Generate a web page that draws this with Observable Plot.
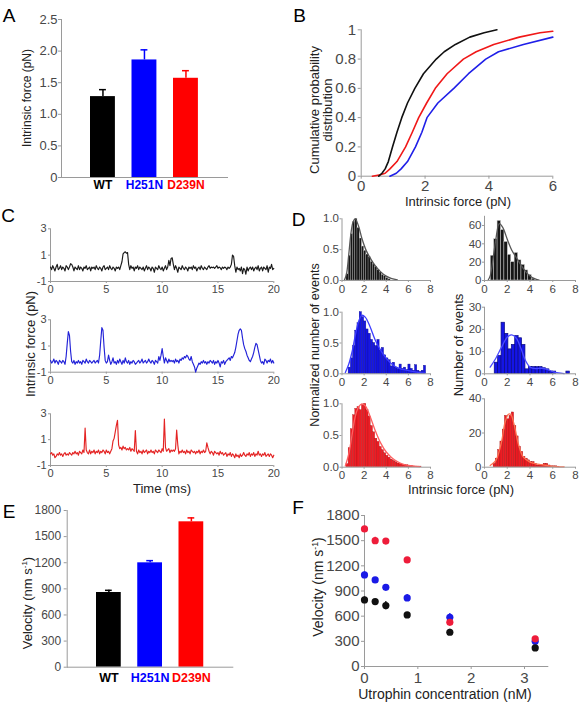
<!DOCTYPE html>
<html><head><meta charset="utf-8">
<script src="https://cdn.jsdelivr.net/npm/d3@7"></script>
<script src="https://cdn.jsdelivr.net/npm/@observablehq/plot@0.6"></script>
<style>
html,body{margin:0;padding:0;background:#fff;}
#fig{position:relative;width:581px;height:705px;overflow:hidden;background:#fff;font-family:"Liberation Sans",Arial,Helvetica,sans-serif;}
.lbl{position:absolute;white-space:nowrap;line-height:1;transform:translate(-50%,-50%);color:#222;}
.rot{transform:translate(-50%,-50%) rotate(-90deg);text-align:center;}
.letter{font-size:19px;color:#000;}
sup{font-size:0.62em;vertical-align:0.55em;line-height:0;}
</style></head><body><div id="fig"></div>
<script>
// ---------- data ----------
const cats = ["WT", "H251N", "D239N"];
const catColors = ["#000000", "#0000ff", "#ff0000"];
const forceMean = [1.28, 1.86, 1.57];
const forceErr = [0.11, 0.16, 0.12];
const velMean = [858, 1199, 1670];
const velErr = [25, 25, 45];

// B: cumulative distributions (force, cumulative probability)
const cdfF_WT = [0.55,0.65,0.75,0.85,0.98,1.12,1.27,1.45,1.68,1.95,2.35,2.6,2.95,3.4,3.85,4.25];
const cdfP_WT = [0,0.02,0.05,0.1,0.2,0.3,0.4,0.5,0.6,0.7,0.8,0.85,0.9,0.95,0.98,1.0];
const cdfF_H = [0.9,1.1,1.25,1.45,1.7,1.9,2.06,2.4,2.9,3.36,3.9,4.3,5.08,6.0];
const cdfP_H = [0,0.02,0.05,0.1,0.2,0.3,0.4,0.5,0.6,0.7,0.8,0.85,0.9,0.95];
const cdfF_D = [0.35,0.6,0.75,0.9,1.12,1.39,1.6,1.8,2.05,2.32,2.69,3.2,3.6,4.15,4.95,5.6,6.0];
const cdfP_D = [0,0.01,0.02,0.05,0.1,0.2,0.3,0.4,0.5,0.6,0.7,0.8,0.85,0.9,0.95,0.98,0.99];

// C: force traces sampled every 0.1 ms, 0–20 ms
const traceStep = 0.1;
const traceWT = [
0.1,-0.1,0.2,0,-0.2,0.1,0.3,-0.1,0,0.2,
-0.1,0.1,0,-0.2,0.2,0.1,-0.1,0.1,0.35,0.3,
0.1,-0.2,0.1,0,-0.1,0.2,-0.1,0.1,0,-0.2,
0.1,0,0.2,-0.1,0,0.1,-0.2,0.1,0,0.1,
-0.1,0.2,0,-0.1,0.1,0,-0.2,0.1,0.2,-0.1,
0,0.1,-0.1,0.2,0,-0.1,0.1,0,-0.2,0.1,
0,0.1,-0.1,0.2,0.5,1.1,1.2,1.25,1.15,1.2,
0.3,-0.1,0.2,0,0.1,-0.2,0.1,0,0.2,-0.1,
0.1,0,-0.1,0.1,-0.2,0,0.2,-0.1,0.1,0,
-0.2,0.1,0,-0.3,0.1,0,-0.1,0.2,0,-0.1,
0.1,-0.2,0,0.2,-0.1,0.1,0.6,0.2,0.75,0.8,
0.3,-0.1,0.2,0,-0.3,0.1,0,-0.1,0.2,0,
-0.1,0.1,0,-0.2,0.1,0,0.1,-0.1,0.2,0,
0.1,-0.2,0,0.1,-0.1,0.2,0,-0.1,0.1,0,
-0.1,0.1,0.2,0,0.1,0.05,0.1,0,0.1,0.2,
0,0.1,0.05,-0.1,0.1,0,0.1,0.05,-0.1,0.1,
0,0.1,0.3,1.0,0.9,0.2,-0.3,0.1,-0.1,0,
-0.2,0.1,-0.4,0,-0.1,-0.45,0.1,-0.2,0,0.1,
-0.1,0.1,-0.2,0,0.1,-0.1,0.2,-0.2,0,0.1,
-0.2,0.1,0,-0.1,0.2,-0.3,0.1,0,0.3,-0.1,
0];
const traceH = [
-0.1,-0.3,-0.2,0,-0.3,-0.1,-0.2,-0.4,-0.1,-0.2,
-0.3,-0.1,-0.2,-0.4,0.2,1.2,2.1,1.8,0.6,-0.2,
-0.3,-0.1,-0.4,-0.2,-0.3,-0.1,-0.3,-0.2,-0.4,-0.1,
-0.2,-0.3,0,-0.2,-0.3,-0.1,-0.2,-0.3,-0.2,-0.1,
-0.3,-0.2,-0.1,-0.3,0.3,1.4,2.4,2.2,0.9,-0.1,
-0.3,-0.2,0.3,-0.1,-0.4,-0.2,0.1,-0.3,-0.2,-0.4,
-0.1,-0.3,0,-0.2,-0.4,-0.1,-0.3,0.1,-0.2,-0.3,
-0.1,-0.4,-0.2,-0.3,-0.1,-0.2,-0.4,-0.3,-0.2,-0.1,
-0.3,-0.2,0,-0.3,-0.2,-0.1,-0.3,-0.2,0,-0.2,
-0.3,-0.1,-0.2,-0.4,-0.1,-0.2,-0.3,0.2,-0.1,0.3,
0.8,0.2,-0.3,0.1,-0.1,-0.3,0,-0.2,-0.1,-0.2,
-0.1,-0.3,0,-0.2,-0.1,-0.3,0,-0.1,0.1,0,
0.2,0.1,0.3,0.2,0,-0.1,0.2,-0.2,-0.4,-0.6,
-1.0,-0.7,-0.5,-0.3,-0.4,-0.2,-0.3,-0.1,-0.3,-0.2,
-0.4,-0.2,-0.3,-0.1,-0.2,-0.3,-0.1,-0.4,-0.2,-0.3,
-0.1,-0.3,-0.6,-0.2,-0.3,-0.1,-0.4,-0.2,-0.1,0,
0.1,-0.1,0.2,0.1,0.3,0.5,0.9,1.4,1.9,2.2,
2.3,2.2,1.6,1.1,0.8,0.6,0.3,0.1,-0.1,-0.2,
0,0.2,0.5,0.9,1.2,1.1,0.7,0.3,-0.1,-0.3,
-0.2,-0.4,0,-0.1,-0.3,-0.1,-0.2,0,-0.3,-0.1,
-0.3];
const traceD = [
-0.1,0,-0.2,-0.1,-0.4,-0.3,-0.1,-0.2,0,-0.2,
-0.1,-0.3,-0.1,0,-0.2,-0.1,-0.2,0,-0.1,-0.2,
0,-0.1,0.1,-0.1,0,-0.2,0.1,0,-0.1,0.2,
0,1.9,0.2,0,-0.1,0.2,-0.1,0.1,0,0.2,
-0.1,0.1,0,0.2,-0.1,0.1,0,0.2,0.1,-0.1,
0.2,0,0.1,-0.1,0.1,0.3,0.9,1.1,1.6,2.1,
2.5,0.6,0.3,0.4,0.2,0.5,0.3,0.4,0.2,0.3,
0.2,0.4,0.1,0.3,0.2,0.1,1.7,0.1,-0.1,0.2,
0,0.1,-0.1,0.2,0,0.1,0.2,-0.1,0.1,0,
0.2,0,0.1,-0.1,0.2,0.1,0,0.2,0.1,0,
0.3,0.1,2.6,0.4,0.1,0.2,0.3,0,0.2,0.1,
0.2,0.1,0.3,1.75,0.6,-0.1,0.1,0,0.2,0,
0.1,-0.1,0.2,0,0.1,-0.1,0.2,0.1,0,0.1,
-0.1,0.1,0,0.2,-0.1,0.1,0,0.2,0,0.1,
0.75,0.4,0.1,-0.1,0.1,0,-0.2,0.1,0,-0.1,
0,-0.2,0.1,-0.1,0,-0.2,-0.1,0,-0.3,-0.1,
-0.2,0,-0.3,-0.1,-0.2,-0.4,-0.1,-0.3,-0.2,-0.4,
-0.1,-0.3,-0.2,0,-0.2,-0.3,-0.1,-0.2,0,-0.3,
-0.1,-0.2,0,-0.3,-0.1,-0.2,0.1,-0.2,-0.1,-0.3,
-0.1,-0.2,0,-0.3,-0.2,-0.1,-0.3,-0.1,-0.2,-0.4,
-0.2];

// D: histograms (bin centres, heights) and fitted curves
const normBinW = 0.2;
const normBinsWT = [0.5,0.7,0.9,1.1,1.3,1.5,1.7,1.9,2.1,2.3,2.5,2.7,2.9,3.1,3.3,3.5,3.7,3.9,4.1,4.3];
const normWT = [0.1,0.4,0.75,0.95,1.0,0.85,0.68,0.55,0.48,0.42,0.38,0.3,0.26,0.22,0.17,0.13,0.09,0.07,0.04,0.02];
const normBinsH = [0.7,0.9,1.1,1.3,1.5,1.7,1.9,2.1,2.3,2.5,2.7,2.9,3.1,3.3,3.5,3.7,3.9,4.1,4.3,4.5,4.7,4.9,5.1,5.3,5.5,5.7,5.9,6.1,6.3,6.5,6.7,6.9,7.1,7.3,7.5];
const normH = [0.1,0.25,0.45,0.7,0.82,1.0,0.92,0.85,0.72,0.65,0.55,0.5,0.45,0.55,0.38,0.42,0.3,0.25,0.22,0.12,0.18,0.1,0.08,0.15,0.08,0.1,0.06,0.15,0.08,0.05,0.14,0.05,0.03,0.05,0.13];
const normBinsD = [0.5,0.7,0.9,1.1,1.3,1.5,1.7,1.9,2.1,2.3,2.5,2.7,2.9,3.1,3.3,3.5,3.7,3.9,4.1,4.3,4.5,4.7,4.9,5.1,5.3,5.5,5.7,5.9,6.1,6.3,6.5,6.7,6.9,7.1];
const normD = [0.05,0.3,0.6,0.82,0.92,0.95,0.9,0.98,1.0,0.9,0.8,0.65,0.55,0.45,0.4,0.32,0.27,0.22,0.18,0.15,0.12,0.1,0.08,0.06,0.05,0.04,0.03,0.03,0.02,0.02,0.01,0.01,0.01,0.01];
const fitNormWT_x = [0.2,0.4,0.6,0.8,1.0,1.2,1.5,1.8,2.2,2.6,3.0,3.5,4.0,4.5,5.0];
const fitNormWT_y = [0,0.1,0.4,0.75,0.95,1.0,0.88,0.68,0.48,0.35,0.24,0.14,0.07,0.03,0.01];
const fitNormH_x = [0.3,0.6,0.9,1.2,1.5,1.8,2.1,2.5,3.0,3.5,4.0,4.5,5.0,5.5,6.0,7.0,7.5];
const fitNormH_y = [0.02,0.15,0.35,0.62,0.85,0.95,0.92,0.78,0.55,0.38,0.25,0.16,0.1,0.07,0.05,0.02,0.01];
const fitNormD_x = [0.3,0.6,0.9,1.2,1.5,1.8,2.1,2.5,3.0,3.5,4.0,4.5,5.0,5.5,6.0,7.0];
const fitNormD_y = [0.02,0.2,0.5,0.8,0.95,1.0,0.97,0.82,0.58,0.38,0.24,0.15,0.09,0.05,0.03,0.01];

const cntBinsWT = [0.7,1.0,1.3,1.6,1.9,2.2,2.5,2.8,3.1,3.4,3.7,4.0,4.3];
const cntWT = [27,45,65,55,42,28,20,30,22,17,11,6,2];
const cntBinsH = [1.05,1.35,1.65,1.95,2.25,2.55,2.85,3.15,3.45,3.75,4.05,4.35,4.65,4.95,5.25,5.55,5.85,6.15,7.35];
const cntH = [5,8,23,18,11,13,17,16,13,2,3,3,3,3,2.5,2,1,1,1];
const cntBinsD = [0.9,1.1,1.3,1.5,1.7,1.9,2.1,2.3,2.5,2.7,2.9,3.1,3.3,3.5,3.7,3.9,4.1,4.3,4.5,4.7,4.9,5.1,5.3,5.5,5.7,5.9,6.1,6.3,6.5];
const cntD = [2,5,10,15,22,30,28,30,32,24,18,12,9,6,5,4,3,3,2,1,1,1,2,2,1,0.5,0.5,0.5,0.3];
const cntBinW = [0.3, 0.3, 0.2];
const fitCntWT_x = [0.3,0.5,0.8,1.0,1.3,1.6,2.0,2.4,2.8,3.2,3.6,4.0,4.4,4.8];
const fitCntWT_y = [0,5,28,45,62,58,45,33,25,17,10,5,2,0.5];
const fitCntH_x = [0.5,1.0,1.5,2.0,2.4,2.8,3.2,3.6,4.0,4.5,5.0,5.5,6.0,6.5,7.0];
const fitCntH_y = [3,7,12,16.5,17.5,16,11.5,6,3,2.3,2.5,2,1,0.4,0.1];
const fitCntD_x = [0.5,1.0,1.5,1.8,2.1,2.3,2.6,3.0,3.4,4.0,4.5,5.0,5.5,6.0,7.0];
const fitCntD_y = [1,4,15,26,31,31,25,13,6,3,2,1.5,1,0.5,0.2];

// F: velocity vs utrophin concentration
const utrConc = [0, 0.2, 0.4, 0.8, 1.6, 3.2];
const velWT = [794, 774, 726, 615, 408, 222];
const velWTErr = [35, 25, 50, 30, 35, 30];
const velH = [1092, 1032, 944, 818, 587, 301];
const velHErr = [35, 20, 25, 40, 45, 30];
const velD = [1640, 1500, 1495, 1270, 527, 330];
const velDErr = [20, 40, 15, 20, 25, 25];

// ---------- helpers ----------
const fig = document.getElementById("fig");
const FONT = '"Liberation Sans", Arial, Helvetica, sans-serif';
const AX = "#9a9a9a";
const TXT = "#474747";
const zip = (a, b) => a.map((v, i) => [v, b[i]]);
const fmtPlain = d => String(d);

function place({box, frame, x, y, marks, fontSize = 12}) {
  const [L, T, W, H] = box, [x0, y0, x1, y1] = frame;
  const svg = Plot.plot({
    width: W, height: H,
    marginLeft: x0 - L, marginRight: L + W - x1,
    marginTop: y0 - T, marginBottom: T + H - y1,
    x, y, color: {type: "identity"},
    marks,
    style: {background: "transparent", fontFamily: FONT, fontSize: fontSize + "px", overflow: "visible"}
  });
  svg.style.position = "absolute";
  svg.style.left = L + "px";
  svg.style.top = T + "px";
  fig.appendChild(svg);
}
function label(html, cx, cy, size, cls = "") {
  const d = document.createElement("div");
  d.className = "lbl " + cls;
  d.style.left = cx + "px"; d.style.top = cy + "px";
  d.style.fontSize = size + "px";
  d.innerHTML = html;
  fig.appendChild(d);
}

// ---------- A ----------
const tblA = cats.map((c, i) => ({cat: c, val: forceMean[i], err: forceErr[i], col: catColors[i]}));
place({
  box: [0, 0, 290, 200], frame: [61, 19, 228, 177], fontSize: 13,
  x: {type: "band", domain: cats, range: [73.4, 214.5], padding: 0.4, round: false, axis: null},
  y: {domain: [0, 2.5], axis: null},
  marks: [
    Plot.ruleX(tblA, {x: "cat", y1: "val", y2: d => d.val + d.err, stroke: "col", strokeWidth: 1.5}),
    Plot.tickY(tblA, {x: "cat", y: d => d.val + d.err, stroke: "col", strokeWidth: 1.5, insetLeft: 9, insetRight: 9}),
    Plot.barY(tblA, {x: "cat", y: "val", fill: "col"}),
    Plot.axisY({ticks: [0, 0.5, 1, 1.5, 2, 2.5], tickFormat: d => d === 0 ? "0" : d.toFixed(1), tickSize: 3, tickPadding: 1, stroke: AX, fill: TXT, label: null}),
    Plot.frame({anchor: "left", stroke: AX}),
    Plot.ruleY([0], {stroke: AX}),
    Plot.text(tblA, {x: "cat", text: "cat", fill: "col", frameAnchor: "bottom", dy: 11, fontWeight: "bold", fontSize: 12})
  ]
});
label("A", 9, 15, 19, "letter");
label("Intrinsic force (pN)", 27, 98, 12, "rot");

// ---------- B ----------
place({
  box: [290, 0, 291, 200], frame: [360.7, 29.3, 552.3, 175.7], fontSize: 15,
  x: {domain: [0, 6], axis: null},
  y: {domain: [0, 1], axis: null},
  marks: [
    Plot.axisY({ticks: [0, 0.2, 0.4, 0.6, 0.8, 1], tickFormat: fmtPlain, tickSize: 3, tickPadding: 2, stroke: AX, fill: TXT, label: null}),
    Plot.axisX({ticks: [0, 2, 4, 6], tickFormat: fmtPlain, tickSize: 3, tickPadding: 1, stroke: AX, fill: TXT, label: null}),
    Plot.ruleX([0], {stroke: AX}),
    Plot.ruleY([0], {stroke: AX}),
    Plot.line(zip(cdfF_H, cdfP_H), {stroke: "#1f1fe8", strokeWidth: 1.6}),
    Plot.line(zip(cdfF_D, cdfP_D), {stroke: "#f01818", strokeWidth: 1.6}),
    Plot.line(zip(cdfF_WT, cdfP_WT), {stroke: "#111", strokeWidth: 1.6})
  ]
});
label("B", 299.5, 14.5, 19, "letter");
label("Cumulative probability<br>distribution", 321, 110, 13, "rot");
label("Intrinsic force (pN)", 458, 201, 13);

// ---------- C ----------
function trace(box, frame, values, color) {
  place({
    box, frame, fontSize: 11,
    x: {domain: [0, 20], axis: null},
    y: {domain: [-1, 3], axis: null},
    marks: [
      Plot.axisY({ticks: [-1, 1, 3], tickFormat: fmtPlain, tickSize: 2, tickPadding: 2, stroke: AX, fill: TXT, label: null}),
      Plot.axisX({ticks: [0, 5, 10, 15, 20], tickFormat: fmtPlain, tickSize: 2, tickPadding: 2, stroke: AX, fill: TXT, label: null}),
      Plot.ruleX([0], {stroke: AX}),
      Plot.ruleY([-1], {stroke: AX}),
      Plot.line(values.map((v, i) => [i * traceStep, v]), {stroke: color, strokeWidth: 1.15})
    ]
  });
}
trace([0, 220, 290, 80], [50, 228.3, 273.3, 281], traceWT, "#1a1a1a");
trace([0, 311, 290, 80], [50, 319.3, 273.3, 371.7], traceH, "#2222d8");
trace([0, 405, 290, 80], [50, 413.3, 273.3, 465], traceD, "#e42424");
label("C", 8, 215, 19, "letter");
label("Intrinsic force (pN)", 30, 344, 13, "rot");
label("Time (ms)", 162, 488, 13);

// ---------- D ----------
function hist({box, frame, bins, vals, binW, fx, fy, yDomain, yTicks, yFmt, fill, stroke, sw, fitColor}) {
  place({
    box, frame, fontSize: 11.5,
    x: {domain: [0, 8], axis: null},
    y: {domain: yDomain, axis: null},
    marks: [
      Plot.rectY(zip(bins, vals), {x1: d => d[0] - binW / 2, x2: d => d[0] + binW / 2, y: d => d[1], fill, stroke, strokeWidth: sw}),
      Plot.line(zip(fx, fy), {stroke: fitColor, strokeWidth: 1.3, curve: "catmull-rom"}),
      Plot.axisY({ticks: yTicks, tickFormat: yFmt, tickSize: 2, tickPadding: 1, stroke: AX, fill: TXT, label: null}),
      Plot.axisX({ticks: [0, 2, 4, 6, 8], tickFormat: fmtPlain, tickSize: 2, tickPadding: 2, stroke: AX, fill: TXT, label: null}),
      Plot.ruleX([0], {stroke: AX}),
      Plot.ruleY([0], {stroke: AX})
    ]
  });
}
const fmt1 = d => d.toFixed(1);
hist({box: [290, 210, 145, 90], frame: [341.5, 218.3, 430, 280], bins: normBinsWT, vals: normWT, binW: normBinW, fx: fitNormWT_x, fy: fitNormWT_y, yDomain: [0, 1], yTicks: [0, 0.5, 1], yFmt: fmt1, fill: "#161616", stroke: "#bbb", sw: 0.3, fitColor: "#555"});
hist({box: [290, 302, 145, 90], frame: [341.5, 311.7, 430, 373.3], bins: normBinsH, vals: normH, binW: normBinW, fx: fitNormH_x, fy: fitNormH_y, yDomain: [0, 1], yTicks: [0, 0.5, 1], yFmt: fmt1, fill: "#1515e6", stroke: "#0a0a90", sw: 0.4, fitColor: "#3d3dff"});
hist({box: [290, 395, 145, 90], frame: [341.5, 403.3, 430, 466.7], bins: normBinsD, vals: normD, binW: normBinW, fx: fitNormD_x, fy: fitNormD_y, yDomain: [0, 1], yTicks: [0, 0.5, 1], yFmt: fmt1, fill: "#ee1c24", stroke: "#a01010", sw: 0.3, fitColor: "#ff6060"});
hist({box: [435, 208, 146, 90], frame: [484, 215.8, 575, 280], bins: cntBinsWT, vals: cntWT, binW: cntBinW[0], fx: fitCntWT_x, fy: fitCntWT_y, yDomain: [0, 70], yTicks: [0, 20, 40, 60], yFmt: fmtPlain, fill: "#161616", stroke: "#ccc", sw: 0.5, fitColor: "#555"});
hist({box: [435, 300, 146, 90], frame: [484, 306.7, 575, 373.3], bins: cntBinsH, vals: cntH, binW: cntBinW[1], fx: fitCntH_x, fy: fitCntH_y, yDomain: [0, 30], yTicks: [0, 10, 20, 30], yFmt: fmtPlain, fill: "#1515e6", stroke: "#0a0a80", sw: 0.7, fitColor: "#4a4aff"});
hist({box: [435, 392, 146, 92], frame: [484, 398.3, 575, 466.7], bins: cntBinsD, vals: cntD, binW: cntBinW[2], fx: fitCntD_x, fy: fitCntD_y, yDomain: [0, 40], yTicks: [0, 20, 40], yFmt: fmtPlain, fill: "#ee1c24", stroke: "#a01010", sw: 0.4, fitColor: "#ff7050"});
label("D", 298.5, 218.5, 19, "letter");
label("Normalized number of events", 315, 345, 12.5, "rot");
label("Number of events", 458, 345, 13, "rot");
label("Intrinsic force (pN)", 461, 489, 13);

// ---------- E ----------
const tblE = cats.map((c, i) => ({cat: c, val: velMean[i], err: velErr[i], col: catColors[i]}));
place({
  box: [0, 470, 290, 235], frame: [66.7, 510, 233.3, 666.7], fontSize: 12,
  x: {type: "band", domain: cats, range: [79.5, 219.75], padding: 0.4, round: false, axis: null},
  y: {domain: [0, 1800], axis: null},
  marks: [
    Plot.ruleX(tblE, {x: "cat", y1: "val", y2: d => d.val + d.err, stroke: "col", strokeWidth: 1.5}),
    Plot.tickY(tblE, {x: "cat", y: d => d.val + d.err, stroke: "col", strokeWidth: 1.5, insetLeft: 9, insetRight: 9}),
    Plot.barY(tblE, {x: "cat", y: "val", fill: "col"}),
    Plot.axisY({ticks: [0, 300, 600, 900, 1200, 1500, 1800], tickSize: 3, tickPadding: 3, stroke: AX, fill: TXT, label: null, tickFormat: fmtPlain}),
    Plot.frame({anchor: "left", stroke: AX}),
    Plot.ruleY([0], {stroke: AX}),
    Plot.text(tblE, {x: "cat", text: "cat", fill: "col", frameAnchor: "bottom", dy: 15, fontWeight: "bold", fontSize: 12.5})
  ]
});
label("E", 9, 511, 19, "letter");
label("Velocity (nm s<sup>-1</sup>)", 27, 603, 13, "rot");

// ---------- F ----------
const series = [
  {v: velH, e: velHErr, c: "#1a1ae6"},
  {v: velD, e: velDErr, c: "#ee1c3a"},
  {v: velWT, e: velWTErr, c: "#111111"}
];
const fMarks = [
  Plot.axisY({ticks: [0, 300, 600, 900, 1200, 1500, 1800], tickSize: 3, tickPadding: 2, stroke: AX, fill: TXT, label: null, tickFormat: fmtPlain}),
  Plot.axisX({ticks: [0, 1, 2, 3], tickFormat: fmtPlain, tickSize: 3, tickPadding: 2.5, stroke: AX, fill: TXT, label: null}),
  Plot.ruleX([0], {stroke: AX}),
  Plot.ruleY([0], {stroke: AX})
];
for (const s of series) {
  const pts = utrConc.map((x, i) => ({x, v: s.v[i], e: s.e[i]}));
  fMarks.push(Plot.ruleX(pts, {x: "x", y1: d => d.v - d.e, y2: d => d.v + d.e, stroke: s.c, strokeWidth: 1.3}));
  fMarks.push(Plot.dot(pts, {x: "x", y: "v", r: 3.6, fill: s.c, stroke: "none"}));
}
place({
  box: [290, 470, 291, 235], frame: [364, 515, 548.3, 666], fontSize: 15,
  x: {domain: [0, 3.455], axis: null},
  y: {domain: [0, 1800], axis: null},
  marks: fMarks
});
label("F", 298, 506.5, 19, "letter");
label("Velocity (nm s<sup>-1</sup>)", 318, 587, 14, "rot");
label("Utrophin concentration (nM)", 445, 694, 14);
</script></body></html>
